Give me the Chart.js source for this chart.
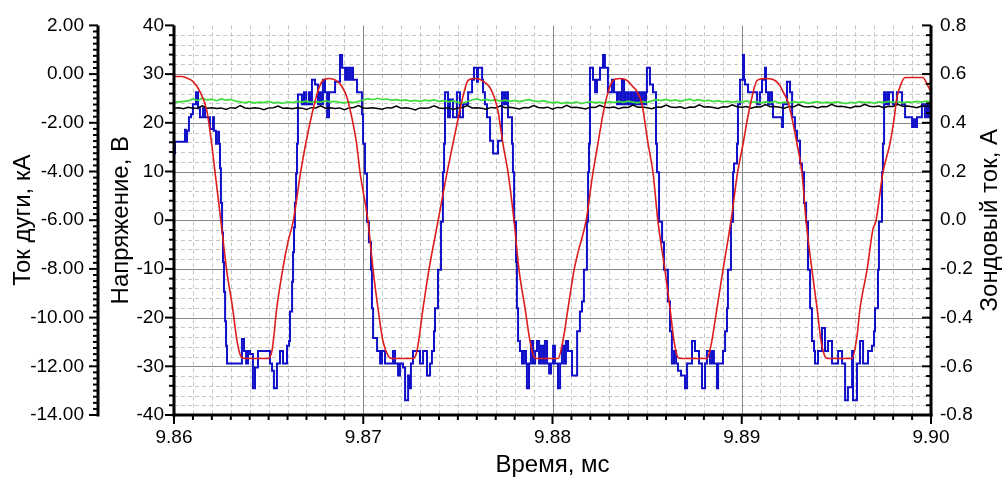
<!DOCTYPE html>
<html lang="ru">
<head>
<meta charset="utf-8">
<title>Ток дуги, напряжение и зондовый ток</title>
<script src="https://cdn.jsdelivr.net/npm/chart.js@4/dist/chart.umd.min.js"></script>
<style>
  html, body { margin: 0; padding: 0; background: #fff; }
  canvas { display: block; }
</style>
</head>
<body>
<canvas id="chart" width="1002" height="482"></canvas>
<script>
// ---- axis ticks -------------------------------------------------------
const timeTicks = [9.86, 9.87, 9.88, 9.89, 9.90];
const timeLabels = ['9.86', '9.87', '9.88', '9.89', '9.90'];
const arcTicks = [-14, -12, -10, -8, -6, -4, -2, 0, 2];
const arcLabels = ['-14.00', '-12.00', '-10.00', '-8.00', '-6.00', '-4.00', '-2.00', '0.00', '2.00'];
const voltTicks = [-40, -30, -20, -10, 0, 10, 20, 30, 40];
const voltLabels = ['-40', '-30', '-20', '-10', '0', '10', '20', '30', '40'];
const probeTicks = [-0.8, -0.6, -0.4, -0.2, 0, 0.2, 0.4, 0.6, 0.8];
const probeLabels = ['-0.8', '-0.6', '-0.4', '-0.2', '0.0', '0.2', '0.4', '0.6', '0.8'];

// ---- voltage (red), ms / V ---------------------------------------------
const redTime = [
  9.86000, 9.86042, 9.86074, 9.86100, 9.86137, 9.86174, 9.86199, 9.86217, 9.86248, 9.86278, 9.86310, 9.86333, 9.86354, 9.86375,
  9.86497, 9.86518, 9.86543, 9.86574, 9.86602, 9.86630, 9.86669, 9.86696, 9.86729, 9.86761, 9.86787, 9.86819, 9.86856, 9.86888, 9.86914, 9.86941, 9.86965, 9.86983, 9.87025, 9.87052, 9.87078, 9.87104, 9.87131, 9.87152,
  9.87263, 9.87284, 9.87316, 9.87347, 9.87395, 9.87443, 9.87474, 9.87501, 9.87527, 9.87554, 9.87585, 9.87617, 9.87649, 9.87670, 9.87691, 9.87712, 9.87738, 9.87765, 9.87797, 9.87823, 9.87855, 9.87881, 9.87902, 9.87918,
  9.88029, 9.88055, 9.88082, 9.88114, 9.88135, 9.88177, 9.88214, 9.88240, 9.88267, 9.88293, 9.88320, 9.88357, 9.88394, 9.88420, 9.88447, 9.88473, 9.88505, 9.88531, 9.88557, 9.88594, 9.88621, 9.88642, 9.88663, 9.88684,
  9.88816, 9.88837, 9.88869, 9.88901, 9.88943, 9.88978, 9.89007, 9.89033, 9.89055, 9.89081, 9.89123, 9.89166, 9.89197, 9.89218, 9.89245, 9.89266, 9.89292, 9.89318, 9.89340, 9.89371, 9.89398, 9.89419, 9.89440, 9.89456,
  9.89583, 9.89609, 9.89625, 9.89662, 9.89693, 9.89709, 9.89746, 9.89783, 9.89805, 9.89820, 9.89841, 9.89863, 9.89958, 9.89979, 9.90000
];
const redVoltage = [
  29.5, 29.5, 29.1, 28.5, 26.4, 22.4, 15.7, 9.8, -0.2, -10.2, -18.1, -24.8, -28.0, -28.4,
  -28.4, -26.8, -18.1, -10.2, -4.5, -0.2, 9.8, 15.7, 21.8, 26.6, 28.7, 29.1, 28.7, 27.4, 25.2, 20.8, 15.7, 9.8, -0.2, -10.2, -18.1, -24.8, -27.8, -28.4,
  -28.4, -26.8, -18.1, -10.2, -0.2, 9.8, 15.7, 20.8, 25.4, 28.7, 29.1, 28.9, 28.1, 27.2, 25.4, 22.4, 15.7, 9.8, -0.2, -10.2, -18.1, -24.8, -28.0, -28.4,
  -28.4, -24.8, -18.1, -10.2, -6.6, -0.2, 9.8, 15.7, 21.8, 26.2, 28.7, 29.1, 28.7, 27.6, 26.4, 23.8, 15.7, 9.8, -0.2, -10.2, -18.1, -24.8, -28.2, -28.4,
  -28.4, -25.8, -18.1, -10.2, -0.2, 9.8, 15.7, 21.4, 25.4, 28.7, 29.1, 28.9, 27.9, 26.4, 24.2, 20.8, 15.7, 9.8, -0.2, -10.2, -18.1, -24.8, -28.0, -28.4,
  -28.4, -23.8, -18.1, -10.2, -1.9, -0.2, 9.8, 15.7, 20.8, 25.2, 27.9, 29.3, 29.3, 27.9, 26.4
];

// ---- probe current (blue), ms / A, sample-and-hold -----------------------
const blueTime = [
  9.86000, 9.86005, 9.86058, 9.86063, 9.86069, 9.86079, 9.86090, 9.86100, 9.86116, 9.86127, 9.86137, 9.86153, 9.86164, 9.86190, 9.86206, 9.86211, 9.86222, 9.86233, 9.86238,
  9.86243, 9.86248, 9.86254, 9.86259, 9.86264, 9.86270, 9.86275,
  9.86280, 9.86359, 9.86370, 9.86381, 9.86391, 9.86402, 9.86417, 9.86428, 9.86444, 9.86507, 9.86518, 9.86528, 9.86544, 9.86560, 9.86576, 9.86597, 9.86608,
  9.86613, 9.86624, 9.86629, 9.86634, 9.86639, 9.86645, 9.86650,
  9.86655, 9.86676, 9.86687, 9.86698, 9.86713, 9.86719, 9.86729, 9.86745, 9.86761, 9.86766, 9.86777, 9.86787, 9.86798, 9.86809, 9.86819, 9.86851, 9.86877, 9.86888, 9.86904, 9.86914, 9.86925, 9.86935, 9.86946, 9.86967, 9.86993,
  9.86999, 9.87009, 9.87020, 9.87030, 9.87041, 9.87046,
  9.87052, 9.87073, 9.87089, 9.87099, 9.87115, 9.87157, 9.87168, 9.87184, 9.87194, 9.87210, 9.87221, 9.87237, 9.87247, 9.87252, 9.87263, 9.87300, 9.87316, 9.87337, 9.87353, 9.87363, 9.87374,
  9.87379, 9.87395, 9.87411, 9.87421, 9.87427,
  9.87432, 9.87448, 9.87458, 9.87474, 9.87495, 9.87511, 9.87527, 9.87554, 9.87575, 9.87585, 9.87601, 9.87606, 9.87628, 9.87633, 9.87643, 9.87654, 9.87670, 9.87686, 9.87712, 9.87733, 9.87744, 9.87754, 9.87765,
  9.87786, 9.87791, 9.87797, 9.87807, 9.87812,
  9.87818, 9.87828, 9.87839, 9.87849, 9.87860, 9.87865, 9.87876, 9.87886, 9.87897, 9.87908, 9.87918, 9.87929, 9.87939, 9.87950, 9.87960, 9.87971, 9.87982, 9.87992, 9.88003, 9.88013, 9.88029, 9.88040, 9.88050, 9.88061, 9.88071, 9.88082, 9.88103, 9.88130,
  9.88145, 9.88156, 9.88166, 9.88182, 9.88188, 9.88193,
  9.88198, 9.88214, 9.88225, 9.88235, 9.88251, 9.88267, 9.88277, 9.88293, 9.88314, 9.88325, 9.88341, 9.88346, 9.88357, 9.88367, 9.88378, 9.88388, 9.88399, 9.88410, 9.88420, 9.88431, 9.88441, 9.88452, 9.88462, 9.88473, 9.88484, 9.88494, 9.88499, 9.88515, 9.88531,
  9.88547, 9.88552, 9.88563, 9.88579, 9.88589, 9.88610, 9.88621,
  9.88631, 9.88642, 9.88653, 9.88663, 9.88679, 9.88700, 9.88711, 9.88737, 9.88753, 9.88774, 9.88790, 9.88806, 9.88816, 9.88832, 9.88843, 9.88853, 9.88869, 9.88875, 9.88901, 9.88912,
  9.88922, 9.88927, 9.88943, 9.88954, 9.88959, 9.88975, 9.88980,
  9.88991, 9.89007, 9.89012, 9.89017, 9.89033, 9.89081, 9.89096, 9.89107, 9.89123, 9.89128, 9.89139, 9.89149, 9.89160, 9.89165, 9.89213, 9.89218, 9.89239, 9.89255, 9.89266, 9.89281, 9.89292, 9.89308,
  9.89318, 9.89329, 9.89340, 9.89350, 9.89361,
  9.89371, 9.89382, 9.89387, 9.89403, 9.89424, 9.89440, 9.89456, 9.89477, 9.89509, 9.89530, 9.89546, 9.89561, 9.89583, 9.89588, 9.89609, 9.89625, 9.89641, 9.89667, 9.89688, 9.89699,
  9.89704, 9.89720, 9.89725, 9.89741, 9.89746,
  9.89752, 9.89757, 9.89768, 9.89773, 9.89778, 9.89799, 9.89820, 9.89847, 9.89863, 9.89900, 9.89910, 9.89921, 9.89926, 9.89952, 9.89968, 9.89979, 9.89989, 9.90000
];
const blueCurrent = [
  0.274, 0.322, 0.371, 0.322, 0.367, 0.423, 0.435, 0.476, 0.525, 0.460, 0.423, 0.460, 0.423, 0.375, 0.423, 0.367, 0.314, 0.363, 0.314,
  0.213, 0.071, -0.051, -0.172, -0.294, -0.415, -0.516,
  -0.589, -0.488, -0.537, -0.589, -0.537, -0.549, -0.690, -0.605, -0.537, -0.589, -0.618, -0.690, -0.589, -0.537, -0.589, -0.516, -0.496,
  -0.375, -0.253, -0.132, -0.030, 0.071, 0.192, 0.314,
  0.516, 0.476, 0.525, 0.476, 0.525, 0.476, 0.577, 0.557, 0.476, 0.525, 0.476, 0.577, 0.525, 0.423, 0.525, 0.569, 0.678, 0.626, 0.577, 0.626, 0.577, 0.626, 0.577, 0.525, 0.435,
  0.314, 0.192, -0.006, -0.091, -0.204, -0.362,
  -0.484, -0.537, -0.589, -0.537, -0.589, -0.537, -0.589, -0.638, -0.589, -0.605, -0.739, -0.638, -0.690, -0.589, -0.537, -0.589, -0.537, -0.638, -0.589, -0.537, -0.456,
  -0.362, -0.204, -0.006, 0.197, 0.314,
  0.525, 0.423, 0.496, 0.423, 0.525, 0.423, 0.476, 0.525, 0.577, 0.626, 0.569, 0.626, 0.577, 0.525, 0.476, 0.423, 0.326, 0.274, 0.326, 0.525, 0.476, 0.525, 0.423,
  0.314, 0.197, -0.006, -0.172, -0.362,
  -0.496, -0.537, -0.589, -0.537, -0.589, -0.690, -0.589, -0.496, -0.589, -0.537, -0.496, -0.589, -0.516, -0.589, -0.496, -0.589, -0.630, -0.589, -0.516, -0.589, -0.690, -0.589, -0.516, -0.589, -0.496, -0.537, -0.638, -0.456,
  -0.375, -0.334, -0.204, -0.006, 0.197, 0.314,
  0.626, 0.577, 0.525, 0.577, 0.626, 0.678, 0.626, 0.525, 0.577, 0.525, 0.476, 0.525, 0.476, 0.577, 0.476, 0.525, 0.476, 0.525, 0.476, 0.525, 0.476, 0.525, 0.476, 0.525, 0.476, 0.525, 0.626, 0.557, 0.525,
  0.314, 0.197, -0.006, -0.091, -0.204, -0.334, -0.456,
  -0.589, -0.537, -0.589, -0.618, -0.638, -0.690, -0.589, -0.496, -0.537, -0.589, -0.690, -0.589, -0.537, -0.589, -0.537, -0.589, -0.690, -0.589, -0.537, -0.456,
  -0.362, -0.204, -0.006, 0.197, 0.233, 0.314, 0.476,
  0.577, 0.678, 0.577, 0.557, 0.525, 0.476, 0.525, 0.577, 0.626, 0.525, 0.476, 0.525, 0.476, 0.423, 0.383, 0.476, 0.569, 0.525, 0.423, 0.367, 0.326, 0.233,
  0.197, 0.071, -0.006, -0.204, -0.362,
  -0.496, -0.537, -0.589, -0.537, -0.443, -0.537, -0.496, -0.589, -0.537, -0.589, -0.739, -0.686, -0.537, -0.739, -0.589, -0.496, -0.589, -0.537, -0.516, -0.456,
  -0.362, -0.204, -0.006, 0.197, 0.314,
  0.525, 0.476, 0.525, 0.476, 0.525, 0.476, 0.525, 0.476, 0.423, 0.383, 0.415, 0.383, 0.423, 0.476, 0.423, 0.476, 0.423, 0.423
];

// ---- arc current channels (green, black), kA, uniform sampling ------------
const arcSampleStart = 9.86;
const arcSampleStep = 0.00025;
const greenArc = [
  -1.13, -1.15, -1.12, -1.10, -1.02, -1.08, -0.99, -1.06, -1.03, -1.09, -1.02, -1.07, -1.04, -1.11, -1.14, -1.18,
  -1.13, -1.19, -1.15, -1.17, -1.12, -1.18, -1.16, -1.20, -1.14, -1.17, -1.12, -1.15, -1.11, -1.16, -1.13, -1.15,
  -1.10, -1.14, -1.12, -1.16, -1.18, -1.14, -1.17, -1.12, -1.06, -1.01, -1.05, -0.99, -1.04, -1.02, -1.07, -1.05,
  -1.09, -1.06, -1.11, -1.08, -1.12, -1.07, -1.10, -1.06, -1.12, -1.09, -1.14, -1.10, -1.16, -1.19, -1.13, -1.06,
  -1.02, -1.08, -1.04, -1.09, -1.06, -1.11, -1.07, -1.12, -1.08, -1.13, -1.09, -1.05, -1.10, -1.13, -1.09, -1.14,
  -1.18, -1.15, -1.20, -1.16, -1.19, -1.14, -1.21, -1.17, -1.13, -1.18, -1.15, -1.19, -1.13, -1.17, -1.12, -1.16,
  -1.11, -1.15, -1.18, -1.13, -1.16, -1.10, -1.05, -1.09, -1.04, -1.10, -1.06, -1.12, -1.07, -1.03, -1.09, -1.05,
  -1.11, -1.07, -1.13, -1.09, -1.14, -1.11, -1.16, -1.12, -1.15, -1.10, -1.16, -1.13, -1.18, -1.14, -1.17, -1.12,
  -1.19, -1.15, -1.18, -1.13, -1.17, -1.14, -1.20, -1.16, -1.13, -1.18, -1.15, -1.19, -1.14, -1.17, -1.21, -1.16,
  -1.18, -1.13, -1.17, -1.15, -1.19, -1.14, -1.17, -1.12, -1.16, -1.13, -1.18, -1.14, -1.16, -1.12, -1.15, -1.11,
  -1.13
];
const blackArc = [
  -1.40, -1.38, -1.42, -1.36, -1.40, -1.39, -1.30, -1.40, -1.38, -1.41, -1.39, -1.45, -1.38, -1.40, -1.29, -1.39,
  -1.41, -1.38, -1.40, -1.46, -1.39, -1.38, -1.31, -1.40, -1.39, -1.42, -1.38, -1.40, -1.45, -1.38, -1.39, -1.30,
  -1.40, -1.38, -1.41, -1.39, -1.46, -1.39, -1.37, -1.29, -1.39, -1.40, -1.38, -1.41, -1.44, -1.38, -1.39, -1.31,
  -1.40, -1.38, -1.41, -1.47, -1.39, -1.40, -1.38, -1.30, -1.39, -1.41, -1.38, -1.45, -1.39, -1.37, -1.29, -1.39,
  -1.38, -1.40, -1.44, -1.37, -1.39, -1.30, -1.38, -1.36, -1.39, -1.43, -1.37, -1.38, -1.29, -1.37, -1.39, -1.36,
  -1.44, -1.37, -1.38, -1.28, -1.37, -1.36, -1.39, -1.43, -1.36, -1.37, -1.28, -1.36, -1.38, -1.35, -1.42, -1.36,
  -1.37, -1.27, -1.36, -1.35, -1.38, -1.42, -1.35, -1.36, -1.27, -1.35, -1.37, -1.34, -1.41, -1.35, -1.36, -1.26,
  -1.35, -1.34, -1.37, -1.41, -1.34, -1.35, -1.26, -1.34, -1.36, -1.33, -1.40, -1.34, -1.35, -1.25, -1.34, -1.33,
  -1.36, -1.40, -1.33, -1.34, -1.25, -1.33, -1.35, -1.32, -1.39, -1.33, -1.34, -1.24, -1.33, -1.32, -1.35, -1.39,
  -1.32, -1.33, -1.24, -1.32, -1.34, -1.31, -1.38, -1.32, -1.33, -1.24, -1.32, -1.31, -1.34, -1.38, -1.31, -1.32,
  -1.33
];

// ---- helpers ------------------------------------------------------------------
const FONT = "'Liberation Sans', Arial, sans-serif";
const pairs = (xs, ys) => xs.map((x, i) => ({ x, y: ys[i] }));
const sampled = (ys) => ys.map((y, i) => ({ x: arcSampleStart + i * arcSampleStep, y }));
const fixedTicks = (values) => (scale) => { scale.ticks = values.map(v => ({ value: v })); };
const labelFor = (values, labels) => (v) => labels[values.indexOf(v)];

Chart.defaults.font.family = FONT;
Chart.defaults.color = '#000';

function stroke(ctx, x1, y1, x2, y2) {
  ctx.beginPath(); ctx.moveTo(x1, y1); ctx.lineTo(x2, y2); ctx.stroke();
}
function eachStep(scale, step, fn) {
  const n = Math.round((scale.max - scale.min) / step);
  for (let k = 0; k <= n; k++) fn(scale.getPixelForValue(scale.min + k * step), k);
}

// grid, axis lines with major/minor ticks, right-hand title
const frame = {
  id: 'frame',
  beforeDatasetsDraw(chart) {
    const { ctx, chartArea: a, scales: { x, yV } } = chart;
    ctx.save();
    ctx.lineWidth = 1;
    ctx.strokeStyle = '#c6c6c6';
    ctx.setLineDash([4, 3]);
    eachStep(x, 0.001, (p, k) => {
      if (k % 10 === 0) return;
      const px = Math.round(p) + 0.5; stroke(ctx, px, a.top, px, a.bottom);
    });
    eachStep(yV, 2, (p, k) => {
      if (k % 5 === 0) return;
      const py = Math.round(p) + 0.5; stroke(ctx, a.left, py, a.right, py);
    });
    ctx.setLineDash([]);
    ctx.strokeStyle = '#8a8a8a';
    timeTicks.slice(1, -1).forEach(v => {
      const px = Math.round(x.getPixelForValue(v)) + 0.5; stroke(ctx, px, a.top, px, a.bottom);
    });
    voltTicks.slice(1, -1).forEach(v => {
      const py = Math.round(yV.getPixelForValue(v)) + 0.5; stroke(ctx, a.left, py, a.right, py);
    });
    ctx.restore();
  },
  afterDatasetsDraw(chart) {
    const { ctx, chartArea: a, scales: { x, yV, yCur, yA } } = chart;
    ctx.save();
    ctx.strokeStyle = '#000';
    ctx.lineWidth = 2;
    // time axis: ticks point down
    eachStep(x, 0.001, (p, k) => stroke(ctx, p, a.bottom, p, a.bottom + (k % 10 === 0 ? 9 : 5)));
    // voltage axis: ticks point left
    eachStep(yV, 2, (p, k) => stroke(ctx, a.left, p, a.left - (k % 5 === 0 ? 9 : 5), p));
    // arc current axis: ticks point left
    eachStep(yCur, 0.25, (p, k) => stroke(ctx, yCur.right, p, yCur.right - (k % 8 === 0 ? 9 : 5), p));
    // probe current axis: ticks point into the plot
    eachStep(yA, 0.04, (p, k) => stroke(ctx, a.right, p, a.right - (k % 5 === 0 ? 9 : 5), p));
    ctx.lineWidth = 3;
    stroke(ctx, yCur.right, a.top, yCur.right, a.bottom + 1.5);
    stroke(ctx, a.left, a.top, a.left, a.bottom + 1.5);
    stroke(ctx, a.right, a.top, a.right, a.bottom + 1.5);
    stroke(ctx, a.left - 1.5, a.bottom, a.right + 1.5, a.bottom);
    ctx.restore();
  },
  afterDraw(chart) {
    const { ctx, chartArea: a } = chart;
    ctx.save();
    ctx.translate(990, (a.top + a.bottom) / 2);
    ctx.rotate(-Math.PI / 2);
    ctx.font = '24px ' + FONT;
    ctx.fillStyle = '#000';
    ctx.textAlign = 'center';
    ctx.textBaseline = 'middle';
    ctx.fillText('Зондовый ток, А', 0, 0);
    ctx.restore();
  }
};

const tickFont = { size: 19 };
const titleFont = { size: 24 };
const hidden = { grid: { display: false, drawTicks: false }, border: { display: false } };

new Chart(document.getElementById('chart'), {
  type: 'line',
  data: {
    datasets: [
      { label: 'Напряжение', data: pairs(redTime, redVoltage), yAxisID: 'yV',
        borderColor: '#dd1c1c', borderWidth: 1.6, cubicInterpolationMode: 'monotone' },
      { label: 'Ток дуги (2)', data: sampled(blackArc), yAxisID: 'yCur',
        borderColor: '#000000', borderWidth: 1.4 },
      { label: 'Ток дуги (1)', data: sampled(greenArc), yAxisID: 'yCur',
        borderColor: '#3cdc3c', borderWidth: 1.6 },
      { label: 'Зондовый ток', data: pairs(blueTime, blueCurrent), yAxisID: 'yA',
        borderColor: '#1010c8', borderWidth: 2, stepped: true }
    ]
  },
  options: {
    responsive: false,
    animation: false,
    devicePixelRatio: 1,
    events: [],
    layout: { padding: { left: 4, right: 0, top: 20, bottom: 0 } },
    elements: { point: { radius: 0 }, line: { fill: false } },
    plugins: { legend: { display: false }, tooltip: { enabled: false } },
    scales: {
      x: {
        type: 'linear', position: 'bottom', min: 9.86, max: 9.90, ...hidden,
        afterBuildTicks: fixedTicks(timeTicks),
        afterFit: (s) => { s.height = 67; },
        ticks: { autoSkip: false, maxRotation: 0, padding: 11, font: tickFont, color: '#000',
                 callback: labelFor(timeTicks, timeLabels) },
        title: { display: true, text: 'Время, мс', font: titleFont, color: '#000', padding: { top: 0, bottom: 2 } }
      },
      yCur: {
        type: 'linear', position: 'left', weight: 1, min: -14, max: 2, ...hidden,
        afterBuildTicks: fixedTicks(arcTicks),
        afterFit: (s) => { s.width = 94; },
        ticks: { autoSkip: false, padding: 14, font: tickFont, color: '#000',
                 callback: labelFor(arcTicks, arcLabels) },
        title: { display: true, text: 'Ток дуги, кА', font: titleFont, color: '#000', padding: { top: 5, bottom: 0 } }
      },
      yV: {
        type: 'linear', position: 'left', weight: 0, min: -40, max: 40, ...hidden,
        afterBuildTicks: fixedTicks(voltTicks),
        afterFit: (s) => { s.width = 76; },
        ticks: { autoSkip: false, padding: 10, font: tickFont, color: '#000',
                 callback: labelFor(voltTicks, voltLabels) },
        title: { display: true, text: 'Напряжение, В', font: titleFont, color: '#000', padding: { top: 9, bottom: 0 } }
      },
      yA: {
        type: 'linear', position: 'right', min: -0.8, max: 0.8, ...hidden,
        afterBuildTicks: fixedTicks(probeTicks),
        afterFit: (s) => { s.width = 71; },
        ticks: { autoSkip: false, padding: 9, font: tickFont, color: '#000',
                 callback: labelFor(probeTicks, probeLabels) }
      }
    }
  },
  plugins: [frame]
});
</script>
</body>
</html>
